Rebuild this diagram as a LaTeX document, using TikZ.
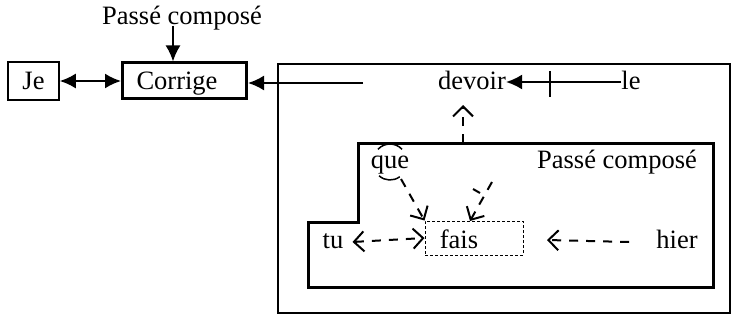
\documentclass[tikz,border=0pt]{standalone}
\usepackage{fontspec}
\setmainfont{Liberation Serif}
\usetikzlibrary{arrows.meta}
\begin{document}
\begin{tikzpicture}[x=1pt,y=-1pt,
  every node/.style={font=\fontsize{26.5}{30}\selectfont, inner sep=0pt, text height=19pt, text depth=5pt},
  thinbox/.style={draw, line width=1.5pt, text depth=1pt},
  thickbox/.style={draw, line width=3pt, text depth=1pt},
  solidarr/.style={line width=2pt, -{Latex[length=16pt,width=15pt]}},
  dasharr/.style={line width=2pt, dash pattern=on 9pt off 8pt, -{Straight Barb[length=10pt,width=20pt]}},
  dashboth/.style={line width=2pt, dash pattern=on 9pt off 8pt, {Straight Barb[length=10pt,width=20pt]}-{Straight Barb[length=10pt,width=20pt]}},
]
\useasboundingbox (0,0) rectangle (734,321);
% top label
\node (pc1) at (182,18) {Passé composé};
\node[thinbox, minimum width=51pt, minimum height=38pt] (je) at (33.5,81) {Je};
\node[thickbox, minimum height=36pt, text width=96pt, inner xsep=14pt, align=left] (corrige) at (184.5,81) {Corrige};
\coordinate (pcfoot) at (173,26);
\draw[solidarr] (pcfoot) -- (corrige.north -| pcfoot);
\draw[line width=2pt, {Latex[length=16pt,width=15pt]}-{Latex[length=16pt,width=15pt]}] (je.east) -- (corrige.west);
% big box
\draw[line width=1.5pt] (278,64) rectangle (730,313);
\coordinate (bigstart) at (363,83);
\draw[solidarr] (bigstart) -- (corrige.east |- bigstart);
\node (devoir) at (472,82) {devoir};
\node (le) at (631,82) {le};
\draw[solidarr] (le.west) -- (devoir.east);
\draw[line width=2pt] (550,71) -- (550,97);
% inner box
\draw[line width=3pt, line join=miter] (358,143) -- (713,143) -- (713,287) -- (308,287) -- (308,222) -- (358,222) -- cycle;
\coordinate (innertop) at (463,143);
\coordinate (devoirfoot) at (463,105);
\draw[dasharr] (innertop) -- (devoirfoot);
\node (que) at (390,161) {que};
\node (pc2) at (617,161) {Passé composé};
\draw[line width=1.5pt] (390,162) ++(225:17 and 18) arc[start angle=225, end angle=315, x radius=17, y radius=18];
\draw[line width=1.5pt] (390,162) ++(130:17 and 18) arc[start angle=130, end angle=55, x radius=17, y radius=18];
\node[draw, line width=1pt, dash pattern=on 3pt off 2pt, minimum width=98pt, minimum height=34pt, text height=, text depth=] (faisbox) at (474,238) {};
\node (fais) at (459,241) {fais};
\node (tu) at (333,241) {tu};
\node (hier) at (677,241) {hier};
\coordinate (queout) at (401,179);
\draw[dasharr] (queout) -- (faisbox.north west);
\coordinate (starout) at (492,182);
\coordinate (starhead) at (470,221);
\draw[dasharr] (starout) -- (starhead);
\draw[line width=2pt] (473,189) -- (480,193);
\draw[dashboth] (tu.east) ++(9pt,-1pt) -- (faisbox.west);
\coordinate (hierhead) at (547,240);
\draw[dasharr] (hier.west) ++(-27pt,-1pt) -- (hierhead);
\end{tikzpicture}
\end{document}
